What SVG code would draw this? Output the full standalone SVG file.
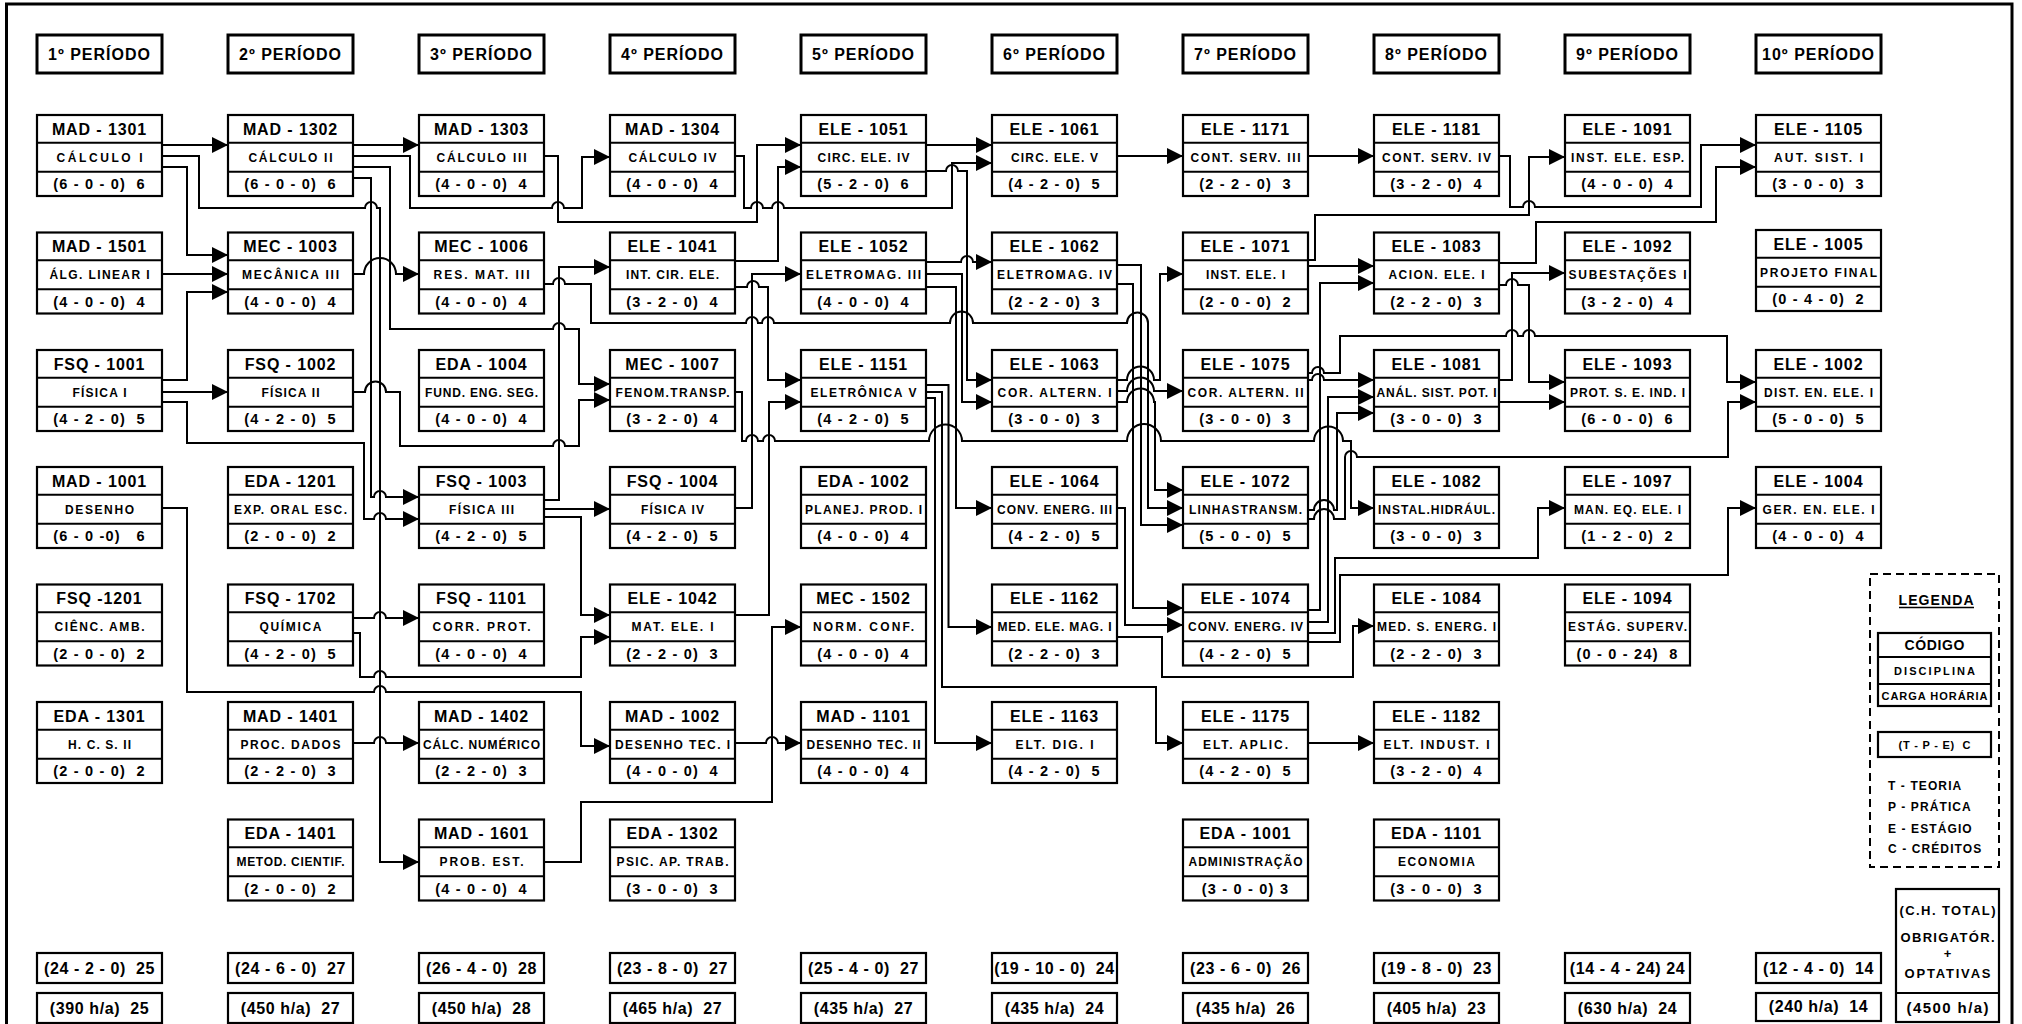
<svg xmlns="http://www.w3.org/2000/svg" xmlns:xlink="http://www.w3.org/1999/xlink" width="2022" height="1024" viewBox="0 0 2022 1024" xml:space="preserve">
<style>
.bx{fill:#fff;stroke:#000;stroke-width:2.2}
.dl{stroke:#000;stroke-width:2}
.hb{fill:#fff;stroke:#000;stroke-width:3}
text{font-family:"Liberation Sans",Arial,sans-serif;font-weight:bold;fill:#000;text-anchor:middle;white-space:pre}
.cd{font-size:16px;letter-spacing:0.9px}
.nm{font-size:12px}
.cr{font-size:14.5px;letter-spacing:1.2px}
.hd{font-size:16px;letter-spacing:1px}
.sm{font-size:16px;letter-spacing:0.6px}
.lg{font-size:12px;letter-spacing:1.1px;text-anchor:start}
.cn{fill:none;stroke:#000;stroke-width:2;marker-end:url(#ah)}
</style>
<defs>
<marker id="ah" viewBox="0 0 16 16" refX="16" refY="8" markerWidth="16" markerHeight="16" markerUnits="userSpaceOnUse" orient="auto"><path d="M0,0L16,8L0,16z" fill="#000"/></marker>
<g id="box"><rect class="bx" x="0" y="0" width="125" height="81"/><line class="dl" x1="0" y1="27.7" x2="125" y2="27.7"/><line class="dl" x1="0" y1="56.7" x2="125" y2="56.7"/></g>
</defs>
<rect x="0" y="0" width="2022" height="1024" fill="#fff"/>
<rect x="6.5" y="4" width="2005.5" height="1040" fill="none" stroke="#000" stroke-width="3"/>

<g id="headings">
<g id="h1"><rect class="hb" x="37" y="35" width="125" height="38"/><text class="hd" x="99.5" y="60">1º PERÍODO</text></g>
<g id="h2"><rect class="hb" x="228" y="35" width="125" height="38"/><text class="hd" x="290.5" y="60">2º PERÍODO</text></g>
<g id="h3"><rect class="hb" x="419" y="35" width="125" height="38"/><text class="hd" x="481.5" y="60">3º PERÍODO</text></g>
<g id="h4"><rect class="hb" x="610" y="35" width="125" height="38"/><text class="hd" x="672.5" y="60">4º PERÍODO</text></g>
<g id="h5"><rect class="hb" x="801" y="35" width="125" height="38"/><text class="hd" x="863.5" y="60">5º PERÍODO</text></g>
<g id="h6"><rect class="hb" x="992" y="35" width="125" height="38"/><text class="hd" x="1054.5" y="60">6º PERÍODO</text></g>
<g id="h7"><rect class="hb" x="1183" y="35" width="125" height="38"/><text class="hd" x="1245.5" y="60">7º PERÍODO</text></g>
<g id="h8"><rect class="hb" x="1374" y="35" width="125" height="38"/><text class="hd" x="1436.5" y="60">8º PERÍODO</text></g>
<g id="h9"><rect class="hb" x="1565" y="35" width="125" height="38"/><text class="hd" x="1627.5" y="60">9º PERÍODO</text></g>
<g id="h10"><rect class="hb" x="1756" y="35" width="125" height="38"/><text class="hd" x="1818.5" y="60">10º PERÍODO</text></g>
</g>

<g id="connectors">
<path class="cn" d="M162,145H228"/>
<path class="cn" d="M162,156H199V208H365a6,6 0 0 1 12,0H380V862H419"/>
<path class="cn" d="M162,167H187V255H228"/>
<path class="cn" d="M162,274H228"/>
<path class="cn" d="M162,380H187V292H228"/>
<path class="cn" d="M162,392H228"/>
<path class="cn" d="M162,402H187V443H364V519H374a6,6 0 0 1 12,0H419"/>
<path class="cn" d="M353,178H371V497H374a6,6 0 0 1 12,0H419"/>
<path class="cn" d="M353,145H419"/>
<path class="cn" d="M353,156H410V208H552a6,6 0 0 1 12,0H582V157H610"/>
<path class="cn" d="M353,167H390V329H553a6,6 0 0 1 12,0H579V384H610"/>
<path class="cn" d="M353,274H364a16,16 0 0 1 32,0H419"/>
<path class="cn" d="M353,392H365a10.5,10.5 0 0 1 21,0H400V446H553a6,6 0 0 1 12,0H579V400H610"/>
<path class="cn" d="M544,156H558V222H757V145H801"/>
<path class="cn" d="M544,284H553a6,6 0 0 1 12,0H591V323H746a6,6 0 0 1 12,0H762a6,6 0 0 1 12,0H950a11.5,11.5 0 0 1 23,0H1127a10.5,10.5 0 0 1 21,0V508H1183"/>
<path class="cn" d="M544,500H559V267H610"/>
<path class="cn" d="M544,509H610"/>
<path class="cn" d="M544,517H581V615H610"/>
<path class="cn" d="M353,618H374a6,6 0 0 1 12,0H419"/>
<path class="cn" d="M353,633H360V677H374a6,6 0 0 1 12,0H581V637H610"/>
<path class="cn" d="M162,508H187V692H374a6,6 0 0 1 12,0H581V746H610"/>
<path class="cn" d="M353,743H374a6,6 0 0 1 12,0H419"/>
<path class="cn" d="M544,862H581V802H772V627H801"/>
<path class="cn" d="M735,743H766a6,6 0 0 1 12,0H801"/>
<path class="cn" d="M735,156H744V208H751a6,6 0 0 1 12,0H772a6,6 0 0 1 12,0H952V163H992"/>
<path class="cn" d="M735,261H778V167H801"/>
<path class="cn" d="M735,287H747a6,6 0 0 1 12,0H768V380H801"/>
<path class="cn" d="M735,508H752V274H801"/>
<path class="cn" d="M735,392H742V441H746a6,6 0 0 1 12,0H763a6,6 0 0 1 12,0H929a16.5,16.5 0 0 1 33,0H1127a17,17 0 0 1 34,0H1314a14.5,14.5 0 0 1 29,0H1351V508H1374"/>
<path class="cn" d="M735,615H769V402H801"/>
<path class="cn" d="M926,145H992"/>
<path class="cn" d="M926,171H946a6,6 0 0 1 12,0H967V380H992"/>
<path class="cn" d="M926,262H961a6,6 0 0 1 12,0H992"/>
<path class="cn" d="M926,274H962V402H992"/>
<path class="cn" d="M926,287H956V508H992"/>
<path class="cn" d="M926,385H948.5V627H992"/>
<path class="cn" d="M926,392H942V687H1156V743H1183"/>
<path class="cn" d="M926,398H935V743H992"/>
<path class="cn" d="M1117,156H1183"/>
<path class="cn" d="M1117,265H1141V525H1183"/>
<path class="cn" d="M1117,284H1133V608H1183"/>
<path class="cn" d="M1117,380H1127a13.5,13.5 0 0 1 27,0H1160V274H1183"/>
<path class="cn" d="M1117,391H1127a13.5,13.5 0 0 1 27,0H1183"/>
<path class="cn" d="M1117,402H1127a13.5,13.5 0 0 1 27,0H1155V490H1183"/>
<path class="cn" d="M1117,508H1125V625H1183"/>
<path class="cn" d="M1117,637H1162V677H1353V626H1374"/>
<path class="cn" d="M1308,156H1374"/>
<path class="cn" d="M1308,260H1315V215H1529V157H1565"/>
<path class="cn" d="M1308,266H1374"/>
<path class="cn" d="M1308,373H1312a6,6 0 0 1 12,0H1340V336H1506a6,6 0 0 1 12,0H1523a6,6 0 0 1 12,0H1727V382H1756"/>
<path class="cn" d="M1308,380H1312a6,6 0 0 1 12,0H1374"/>
<path class="cn" d="M1308,510H1314a10,10 0 0 1 20,0H1337V413H1374"/>
<path class="cn" d="M1308,519H1314a10,10 0 0 1 20,0H1345V457a6,6 0 0 1 12,0H1728V402H1756"/>
<path class="cn" d="M1308,610H1320V283H1374"/>
<path class="cn" d="M1308,622H1328V397H1374"/>
<path class="cn" d="M1308,633H1335V558H1538V508H1565"/>
<path class="cn" d="M1308,642H1340V575H1728V508H1756"/>
<path class="cn" d="M1499,156H1510V207H1523a6,6 0 0 1 12,0H1701V145H1756"/>
<path class="cn" d="M1499,263H1536V222H1716V167H1756"/>
<path class="cn" d="M1499,285H1506a6,6 0 0 1 12,0H1529V382H1565"/>
<path class="cn" d="M1499,380H1512V273H1565"/>
<path class="cn" d="M1499,402H1565"/>
<path class="cn" d="M1308,743H1374"/>
</g>

<g id="nodes">
<g id="mad1301" transform="translate(37,115)"><use href="#box"/><text class="cd" x="62.5" y="19.5">MAD - 1301</text><text class="nm" x="62.5" y="46.5" textLength="86">CÁLCULO I</text><text class="cr" x="62.5" y="74">(6 - 0 - 0)  6</text></g>
<g id="mad1501" transform="translate(37,232.5)"><use href="#box"/><text class="cd" x="62.5" y="19.5">MAD - 1501</text><text class="nm" x="62.5" y="46.5" textLength="100">ÁLG. LINEAR I</text><text class="cr" x="62.5" y="74">(4 - 0 - 0)  4</text></g>
<g id="fsq1001" transform="translate(37,350)"><use href="#box"/><text class="cd" x="62.5" y="19.5">FSQ - 1001</text><text class="nm" x="62.5" y="46.5" textLength="54">FÍSICA I</text><text class="cr" x="62.5" y="74">(4 - 2 - 0)  5</text></g>
<g id="mad1001" transform="translate(37,467)"><use href="#box"/><text class="cd" x="62.5" y="19.5">MAD - 1001</text><text class="nm" x="62.5" y="46.5" textLength="69">DESENHO</text><text class="cr" x="62.5" y="74">(6 - 0 -0)   6</text></g>
<g id="fsq1201" transform="translate(37,584.5)"><use href="#box"/><text class="cd" x="62.5" y="19.5">FSQ -1201</text><text class="nm" x="62.5" y="46.5" textLength="90">CIÊNC. AMB.</text><text class="cr" x="62.5" y="74">(2 - 0 - 0)  2</text></g>
<g id="eda1301" transform="translate(37,702)"><use href="#box"/><text class="cd" x="62.5" y="19.5">EDA - 1301</text><text class="nm" x="62.5" y="46.5" textLength="63">H. C. S. II</text><text class="cr" x="62.5" y="74">(2 - 0 - 0)  2</text></g>

<g id="mad1302" transform="translate(228,115)"><use href="#box"/><text class="cd" x="62.5" y="19.5">MAD - 1302</text><text class="nm" x="62.5" y="46.5" textLength="84">CÁLCULO II</text><text class="cr" x="62.5" y="74">(6 - 0 - 0)  6</text></g>
<g id="mec1003" transform="translate(228,232.5)"><use href="#box"/><text class="cd" x="62.5" y="19.5">MEC - 1003</text><text class="nm" x="62.5" y="46.5" textLength="97">MECÂNICA III</text><text class="cr" x="62.5" y="74">(4 - 0 - 0)  4</text></g>
<g id="fsq1002" transform="translate(228,350)"><use href="#box"/><text class="cd" x="62.5" y="19.5">FSQ - 1002</text><text class="nm" x="62.5" y="46.5" textLength="58">FÍSICA II</text><text class="cr" x="62.5" y="74">(4 - 2 - 0)  5</text></g>
<g id="eda1201" transform="translate(228,467)"><use href="#box"/><text class="cd" x="62.5" y="19.5">EDA - 1201</text><text class="nm" x="62.5" y="46.5" textLength="113">EXP. ORAL ESC.</text><text class="cr" x="62.5" y="74">(2 - 0 - 0)  2</text></g>
<g id="fsq1702" transform="translate(228,584.5)"><use href="#box"/><text class="cd" x="62.5" y="19.5">FSQ - 1702</text><text class="nm" x="62.5" y="46.5" textLength="62">QUÍMICA</text><text class="cr" x="62.5" y="74">(4 - 2 - 0)  5</text></g>
<g id="mad1401" transform="translate(228,702)"><use href="#box"/><text class="cd" x="62.5" y="19.5">MAD - 1401</text><text class="nm" x="62.5" y="46.5" textLength="100">PROC. DADOS</text><text class="cr" x="62.5" y="74">(2 - 2 - 0)  3</text></g>
<g id="eda1401" transform="translate(228,819.5)"><use href="#box"/><text class="cd" x="62.5" y="19.5">EDA - 1401</text><text class="nm" x="62.5" y="46.5" textLength="108">METOD. CIENTIF.</text><text class="cr" x="62.5" y="74">(2 - 0 - 0)  2</text></g>

<g id="mad1303" transform="translate(419,115)"><use href="#box"/><text class="cd" x="62.5" y="19.5">MAD - 1303</text><text class="nm" x="62.5" y="46.5" textLength="90">CÁLCULO III</text><text class="cr" x="62.5" y="74">(4 - 0 - 0)  4</text></g>
<g id="mec1006" transform="translate(419,232.5)"><use href="#box"/><text class="cd" x="62.5" y="19.5">MEC - 1006</text><text class="nm" x="62.5" y="46.5" textLength="96">RES. MAT. III</text><text class="cr" x="62.5" y="74">(4 - 0 - 0)  4</text></g>
<g id="eda1004" transform="translate(419,350)"><use href="#box"/><text class="cd" x="62.5" y="19.5">EDA - 1004</text><text class="nm" x="62.5" y="46.5" textLength="113">FUND. ENG. SEG.</text><text class="cr" x="62.5" y="74">(4 - 0 - 0)  4</text></g>
<g id="fsq1003" transform="translate(419,467)"><use href="#box"/><text class="cd" x="62.5" y="19.5">FSQ - 1003</text><text class="nm" x="62.5" y="46.5" textLength="65">FÍSICA III</text><text class="cr" x="62.5" y="74">(4 - 2 - 0)  5</text></g>
<g id="fsq1101" transform="translate(419,584.5)"><use href="#box"/><text class="cd" x="62.5" y="19.5">FSQ - 1101</text><text class="nm" x="62.5" y="46.5" textLength="98">CORR. PROT.</text><text class="cr" x="62.5" y="74">(4 - 0 - 0)  4</text></g>
<g id="mad1402" transform="translate(419,702)"><use href="#box"/><text class="cd" x="62.5" y="19.5">MAD - 1402</text><text class="nm" x="62.5" y="46.5" textLength="117">CÁLC. NUMÉRICO</text><text class="cr" x="62.5" y="74">(2 - 2 - 0)  3</text></g>
<g id="mad1601" transform="translate(419,819.5)"><use href="#box"/><text class="cd" x="62.5" y="19.5">MAD - 1601</text><text class="nm" x="62.5" y="46.5" textLength="84">PROB. EST.</text><text class="cr" x="62.5" y="74">(4 - 0 - 0)  4</text></g>

<g id="mad1304" transform="translate(610,115)"><use href="#box"/><text class="cd" x="62.5" y="19.5">MAD - 1304</text><text class="nm" x="62.5" y="46.5" textLength="88">CÁLCULO IV</text><text class="cr" x="62.5" y="74">(4 - 0 - 0)  4</text></g>
<g id="ele1041" transform="translate(610,232.5)"><use href="#box"/><text class="cd" x="62.5" y="19.5">ELE - 1041</text><text class="nm" x="62.5" y="46.5" textLength="93">INT. CIR. ELE.</text><text class="cr" x="62.5" y="74">(3 - 2 - 0)  4</text></g>
<g id="mec1007" transform="translate(610,350)"><use href="#box"/><text class="cd" x="62.5" y="19.5">MEC - 1007</text><text class="nm" x="62.5" y="46.5" textLength="114">FENOM.TRANSP.</text><text class="cr" x="62.5" y="74">(3 - 2 - 0)  4</text></g>
<g id="fsq1004" transform="translate(610,467)"><use href="#box"/><text class="cd" x="62.5" y="19.5">FSQ - 1004</text><text class="nm" x="62.5" y="46.5" textLength="63">FÍSICA IV</text><text class="cr" x="62.5" y="74">(4 - 2 - 0)  5</text></g>
<g id="ele1042" transform="translate(610,584.5)"><use href="#box"/><text class="cd" x="62.5" y="19.5">ELE - 1042</text><text class="nm" x="62.5" y="46.5" textLength="82">MAT. ELE. I</text><text class="cr" x="62.5" y="74">(2 - 2 - 0)  3</text></g>
<g id="mad1002" transform="translate(610,702)"><use href="#box"/><text class="cd" x="62.5" y="19.5">MAD - 1002</text><text class="nm" x="62.5" y="46.5" textLength="115">DESENHO TEC. I</text><text class="cr" x="62.5" y="74">(4 - 0 - 0)  4</text></g>
<g id="eda1302" transform="translate(610,819.5)"><use href="#box"/><text class="cd" x="62.5" y="19.5">EDA - 1302</text><text class="nm" x="62.5" y="46.5" textLength="112">PSIC. AP. TRAB.</text><text class="cr" x="62.5" y="74">(3 - 0 - 0)  3</text></g>

<g id="ele1051" transform="translate(801,115)"><use href="#box"/><text class="cd" x="62.5" y="19.5">ELE - 1051</text><text class="nm" x="62.5" y="46.5" textLength="92">CIRC. ELE. IV</text><text class="cr" x="62.5" y="74">(5 - 2 - 0)  6</text></g>
<g id="ele1052" transform="translate(801,232.5)"><use href="#box"/><text class="cd" x="62.5" y="19.5">ELE - 1052</text><text class="nm" x="62.5" y="46.5" textLength="115">ELETROMAG. III</text><text class="cr" x="62.5" y="74">(4 - 0 - 0)  4</text></g>
<g id="ele1151" transform="translate(801,350)"><use href="#box"/><text class="cd" x="62.5" y="19.5">ELE - 1151</text><text class="nm" x="62.5" y="46.5" textLength="106">ELETRÔNICA V</text><text class="cr" x="62.5" y="74">(4 - 2 - 0)  5</text></g>
<g id="eda1002" transform="translate(801,467)"><use href="#box"/><text class="cd" x="62.5" y="19.5">EDA - 1002</text><text class="nm" x="62.5" y="46.5" textLength="117">PLANEJ. PROD. I</text><text class="cr" x="62.5" y="74">(4 - 0 - 0)  4</text></g>
<g id="mec1502" transform="translate(801,584.5)"><use href="#box"/><text class="cd" x="62.5" y="19.5">MEC - 1502</text><text class="nm" x="62.5" y="46.5" textLength="101">NORM. CONF.</text><text class="cr" x="62.5" y="74">(4 - 0 - 0)  4</text></g>
<g id="mad1101" transform="translate(801,702)"><use href="#box"/><text class="cd" x="62.5" y="19.5">MAD - 1101</text><text class="nm" x="62.5" y="46.5" textLength="114">DESENHO TEC. II</text><text class="cr" x="62.5" y="74">(4 - 0 - 0)  4</text></g>

<g id="ele1061" transform="translate(992,115)"><use href="#box"/><text class="cd" x="62.5" y="19.5">ELE - 1061</text><text class="nm" x="62.5" y="46.5" textLength="87">CIRC. ELE. V</text><text class="cr" x="62.5" y="74">(4 - 2 - 0)  5</text></g>
<g id="ele1062" transform="translate(992,232.5)"><use href="#box"/><text class="cd" x="62.5" y="19.5">ELE - 1062</text><text class="nm" x="62.5" y="46.5" textLength="115">ELETROMAG. IV</text><text class="cr" x="62.5" y="74">(2 - 2 - 0)  3</text></g>
<g id="ele1063" transform="translate(992,350)"><use href="#box"/><text class="cd" x="62.5" y="19.5">ELE - 1063</text><text class="nm" x="62.5" y="46.5" textLength="114">COR. ALTERN. I</text><text class="cr" x="62.5" y="74">(3 - 0 - 0)  3</text></g>
<g id="ele1064" transform="translate(992,467)"><use href="#box"/><text class="cd" x="62.5" y="19.5">ELE - 1064</text><text class="nm" x="62.5" y="46.5" textLength="115">CONV. ENERG. III</text><text class="cr" x="62.5" y="74">(4 - 2 - 0)  5</text></g>
<g id="ele1162" transform="translate(992,584.5)"><use href="#box"/><text class="cd" x="62.5" y="19.5">ELE - 1162</text><text class="nm" x="62.5" y="46.5" textLength="114">MED. ELE. MAG. I</text><text class="cr" x="62.5" y="74">(2 - 2 - 0)  3</text></g>
<g id="ele1163" transform="translate(992,702)"><use href="#box"/><text class="cd" x="62.5" y="19.5">ELE - 1163</text><text class="nm" x="62.5" y="46.5" textLength="78">ELT. DIG. I</text><text class="cr" x="62.5" y="74">(4 - 2 - 0)  5</text></g>

<g id="ele1171" transform="translate(1183,115)"><use href="#box"/><text class="cd" x="62.5" y="19.5">ELE - 1171</text><text class="nm" x="62.5" y="46.5" textLength="110">CONT. SERV. III</text><text class="cr" x="62.5" y="74">(2 - 2 - 0)  3</text></g>
<g id="ele1071" transform="translate(1183,232.5)"><use href="#box"/><text class="cd" x="62.5" y="19.5">ELE - 1071</text><text class="nm" x="62.5" y="46.5" textLength="79">INST. ELE. I</text><text class="cr" x="62.5" y="74">(2 - 0 - 0)  2</text></g>
<g id="ele1075" transform="translate(1183,350)"><use href="#box"/><text class="cd" x="62.5" y="19.5">ELE - 1075</text><text class="nm" x="62.5" y="46.5" textLength="116">COR. ALTERN. II</text><text class="cr" x="62.5" y="74">(3 - 0 - 0)  3</text></g>
<g id="ele1072" transform="translate(1183,467)"><use href="#box"/><text class="cd" x="62.5" y="19.5">ELE - 1072</text><text class="nm" x="62.5" y="46.5" textLength="113">LINHASTRANSM.</text><text class="cr" x="62.5" y="74">(5 - 0 - 0)  5</text></g>
<g id="ele1074" transform="translate(1183,584.5)"><use href="#box"/><text class="cd" x="62.5" y="19.5">ELE - 1074</text><text class="nm" x="62.5" y="46.5" textLength="115">CONV. ENERG. IV</text><text class="cr" x="62.5" y="74">(4 - 2 - 0)  5</text></g>
<g id="ele1175" transform="translate(1183,702)"><use href="#box"/><text class="cd" x="62.5" y="19.5">ELE - 1175</text><text class="nm" x="62.5" y="46.5" textLength="85">ELT. APLIC.</text><text class="cr" x="62.5" y="74">(4 - 2 - 0)  5</text></g>
<g id="eda1001" transform="translate(1183,819.5)"><use href="#box"/><text class="cd" x="62.5" y="19.5">EDA - 1001</text><text class="nm" x="62.5" y="46.5" textLength="114">ADMINISTRAÇÃO</text><text class="cr" x="62.5" y="74">(3 - 0 - 0) 3</text></g>

<g id="ele1181" transform="translate(1374,115)"><use href="#box"/><text class="cd" x="62.5" y="19.5">ELE - 1181</text><text class="nm" x="62.5" y="46.5" textLength="109">CONT. SERV. IV</text><text class="cr" x="62.5" y="74">(3 - 2 - 0)  4</text></g>
<g id="ele1083" transform="translate(1374,232.5)"><use href="#box"/><text class="cd" x="62.5" y="19.5">ELE - 1083</text><text class="nm" x="62.5" y="46.5" textLength="96">ACION. ELE. I</text><text class="cr" x="62.5" y="74">(2 - 2 - 0)  3</text></g>
<g id="ele1081" transform="translate(1374,350)"><use href="#box"/><text class="cd" x="62.5" y="19.5">ELE - 1081</text><text class="nm" x="62.5" y="46.5" textLength="120">ANÁL. SIST. POT. I</text><text class="cr" x="62.5" y="74">(3 - 0 - 0)  3</text></g>
<g id="ele1082" transform="translate(1374,467)"><use href="#box"/><text class="cd" x="62.5" y="19.5">ELE - 1082</text><text class="nm" x="62.5" y="46.5" textLength="117">INSTAL.HIDRÁUL.</text><text class="cr" x="62.5" y="74">(3 - 0 - 0)  3</text></g>
<g id="ele1084" transform="translate(1374,584.5)"><use href="#box"/><text class="cd" x="62.5" y="19.5">ELE - 1084</text><text class="nm" x="62.5" y="46.5" textLength="119">MED. S. ENERG. I</text><text class="cr" x="62.5" y="74">(2 - 2 - 0)  3</text></g>
<g id="ele1182" transform="translate(1374,702)"><use href="#box"/><text class="cd" x="62.5" y="19.5">ELE - 1182</text><text class="nm" x="62.5" y="46.5" textLength="106">ELT. INDUST. I</text><text class="cr" x="62.5" y="74">(3 - 2 - 0)  4</text></g>
<g id="eda1101" transform="translate(1374,819.5)"><use href="#box"/><text class="cd" x="62.5" y="19.5">EDA - 1101</text><text class="nm" x="62.5" y="46.5" textLength="77">ECONOMIA</text><text class="cr" x="62.5" y="74">(3 - 0 - 0)  3</text></g>

<g id="ele1091" transform="translate(1565,115)"><use href="#box"/><text class="cd" x="62.5" y="19.5">ELE - 1091</text><text class="nm" x="62.5" y="46.5" textLength="113">INST. ELE. ESP.</text><text class="cr" x="62.5" y="74">(4 - 0 - 0)  4</text></g>
<g id="ele1092" transform="translate(1565,232.5)"><use href="#box"/><text class="cd" x="62.5" y="19.5">ELE - 1092</text><text class="nm" x="62.5" y="46.5" textLength="118">SUBESTAÇÕES I</text><text class="cr" x="62.5" y="74">(3 - 2 - 0)  4</text></g>
<g id="ele1093" transform="translate(1565,350)"><use href="#box"/><text class="cd" x="62.5" y="19.5">ELE - 1093</text><text class="nm" x="62.5" y="46.5" textLength="115">PROT. S. E. IND. I</text><text class="cr" x="62.5" y="74">(6 - 0 - 0)  6</text></g>
<g id="ele1097" transform="translate(1565,467)"><use href="#box"/><text class="cd" x="62.5" y="19.5">ELE - 1097</text><text class="nm" x="62.5" y="46.5" textLength="107">MAN. EQ. ELE. I</text><text class="cr" x="62.5" y="74">(1 - 2 - 0)  2</text></g>
<g id="ele1094" transform="translate(1565,584.5)"><use href="#box"/><text class="cd" x="62.5" y="19.5">ELE - 1094</text><text class="nm" x="62.5" y="46.5" textLength="119">ESTÁG. SUPERV.</text><text class="cr" x="62.5" y="74">(0 - 0 - 24)  8</text></g>

<g id="ele1105" transform="translate(1756,115)"><use href="#box"/><text class="cd" x="62.5" y="19.5">ELE - 1105</text><text class="nm" x="62.5" y="46.5" textLength="89">AUT. SIST. I</text><text class="cr" x="62.5" y="74">(3 - 0 - 0)  3</text></g>
<g id="ele1005" transform="translate(1756,230)"><use href="#box"/><text class="cd" x="62.5" y="19.5">ELE - 1005</text><text class="nm" x="62.5" y="46.5" textLength="117">PROJETO FINAL</text><text class="cr" x="62.5" y="74">(0 - 4 - 0)  2</text></g>
<g id="ele1002" transform="translate(1756,350)"><use href="#box"/><text class="cd" x="62.5" y="19.5">ELE - 1002</text><text class="nm" x="62.5" y="46.5" textLength="109">DIST. EN. ELE. I</text><text class="cr" x="62.5" y="74">(5 - 0 - 0)  5</text></g>
<g id="ele1004" transform="translate(1756,467)"><use href="#box"/><text class="cd" x="62.5" y="19.5">ELE - 1004</text><text class="nm" x="62.5" y="46.5" textLength="112">GER. EN. ELE. I</text><text class="cr" x="62.5" y="74">(4 - 0 - 0)  4</text></g>
</g>

<g id="totals">
<g id="t1"><rect class="bx" x="37" y="953" width="125" height="30"/><text class="sm" x="99.5" y="974">(24 - 2 - 0)  25</text><rect class="bx" x="37" y="993" width="125" height="30"/><text class="sm" x="99.5" y="1014">(390 h/a)  25</text></g>
<g id="t2"><rect class="bx" x="228" y="953" width="125" height="30"/><text class="sm" x="290.5" y="974">(24 - 6 - 0)  27</text><rect class="bx" x="228" y="993" width="125" height="30"/><text class="sm" x="290.5" y="1014">(450 h/a)  27</text></g>
<g id="t3"><rect class="bx" x="419" y="953" width="125" height="30"/><text class="sm" x="481.5" y="974">(26 - 4 - 0)  28</text><rect class="bx" x="419" y="993" width="125" height="30"/><text class="sm" x="481.5" y="1014">(450 h/a)  28</text></g>
<g id="t4"><rect class="bx" x="610" y="953" width="125" height="30"/><text class="sm" x="672.5" y="974">(23 - 8 - 0)  27</text><rect class="bx" x="610" y="993" width="125" height="30"/><text class="sm" x="672.5" y="1014">(465 h/a)  27</text></g>
<g id="t5"><rect class="bx" x="801" y="953" width="125" height="30"/><text class="sm" x="863.5" y="974">(25 - 4 - 0)  27</text><rect class="bx" x="801" y="993" width="125" height="30"/><text class="sm" x="863.5" y="1014">(435 h/a)  27</text></g>
<g id="t6"><rect class="bx" x="992" y="953" width="125" height="30"/><text class="sm" x="1054.5" y="974">(19 - 10 - 0)  24</text><rect class="bx" x="992" y="993" width="125" height="30"/><text class="sm" x="1054.5" y="1014">(435 h/a)  24</text></g>
<g id="t7"><rect class="bx" x="1183" y="953" width="125" height="30"/><text class="sm" x="1245.5" y="974">(23 - 6 - 0)  26</text><rect class="bx" x="1183" y="993" width="125" height="30"/><text class="sm" x="1245.5" y="1014">(435 h/a)  26</text></g>
<g id="t8"><rect class="bx" x="1374" y="953" width="125" height="30"/><text class="sm" x="1436.5" y="974">(19 - 8 - 0)  23</text><rect class="bx" x="1374" y="993" width="125" height="30"/><text class="sm" x="1436.5" y="1014">(405 h/a)  23</text></g>
<g id="t9"><rect class="bx" x="1565" y="953" width="125" height="30"/><text class="sm" x="1627.5" y="974">(14 - 4 - 24) 24</text><rect class="bx" x="1565" y="993" width="125" height="30"/><text class="sm" x="1627.5" y="1014">(630 h/a)  24</text></g>
<g id="t10"><rect class="bx" x="1756" y="953" width="125" height="30"/><text class="sm" x="1818.5" y="974">(12 - 4 - 0)  14</text><rect class="bx" x="1756" y="993" width="125" height="28"/><text class="sm" x="1818.5" y="1012">(240 h/a)  14</text></g>
<g id="total"><rect class="bx" x="1896" y="889" width="103" height="133"/><line class="dl" x1="1896" y1="993" x2="1999" y2="993"/>
<text x="1947.5" y="915" font-size="13" textLength="96">(C.H. TOTAL)</text>
<text x="1947.5" y="942" font-size="13" textLength="94">OBRIGATÓR.</text>
<text x="1947.5" y="958" font-size="13">+</text>
<text x="1947.5" y="978" font-size="13" textLength="86">OPTATIVAS</text>
<text x="1947.5" y="1013" font-size="15" textLength="82">(4500 h/a)</text></g>
</g>

<g id="legend">
<rect x="1870" y="574" width="129" height="293" fill="none" stroke="#000" stroke-width="2" stroke-dasharray="8,5"/>
<text x="1936" y="605" font-size="14" textLength="75">LEGENDA</text>
<line x1="1899" y1="607.5" x2="1974" y2="607.5" stroke="#000" stroke-width="1.5"/>
<rect class="bx" x="1878" y="633" width="113" height="73"/>
<line class="dl" x1="1878" y1="657" x2="1991" y2="657"/>
<line class="dl" x1="1878" y1="684" x2="1991" y2="684"/>
<text x="1934.5" y="650" font-size="14" textLength="60">CÓDIGO</text>
<text x="1934.5" y="675" font-size="11" textLength="81">DISCIPLINA</text>
<text x="1934.5" y="699.5" font-size="11" textLength="106">CARGA HORÁRIA</text>
<rect class="bx" x="1878" y="732" width="113" height="25"/>
<text x="1934.5" y="749" font-size="11" textLength="72">(T - P - E)  C</text>
<text class="lg" x="1888" y="790">T - TEORIA</text>
<text class="lg" x="1888" y="811">P - PRÁTICA</text>
<text class="lg" x="1888" y="833">E - ESTÁGIO</text>
<text class="lg" x="1888" y="853">C - CRÉDITOS</text>
</g>
</svg>
